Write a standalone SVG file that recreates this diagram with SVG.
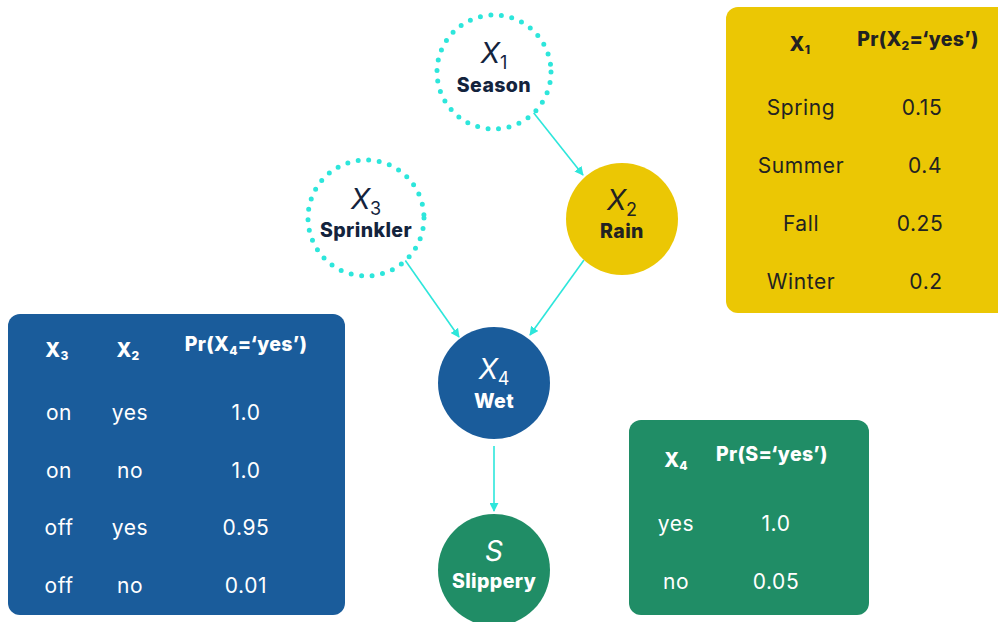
<svg xmlns="http://www.w3.org/2000/svg" width="998" height="622" viewBox="0 0 998 622">
<style>
.lbl{font-family:Inter,"Open Sans","Liberation Sans",sans-serif;font-weight:800;font-size:19.5px;text-anchor:middle;letter-spacing:0.4px}
.var{font-family:Inter,"Open Sans","Liberation Sans",sans-serif;font-style:italic;font-size:28px;text-anchor:middle}
.sub{font-style:normal;font-size:18px}
.th{font-family:Inter,"Open Sans","Liberation Sans",sans-serif;font-weight:800;font-size:19.5px;text-anchor:middle;letter-spacing:0.3px}
.thsub{font-size:12px}
.td{font-family:Inter,"Open Sans","Liberation Sans",sans-serif;font-size:21px;text-anchor:middle;letter-spacing:0.6px}
.dot{fill:#fff;stroke:#2de6db;stroke-width:5;stroke-linecap:round;stroke-dasharray:0 10.6}
.edge{stroke:#2de6db;stroke-width:1.6;fill:none;marker-end:url(#ah)}
.dark{fill:#13233d}
.wht{fill:#fff}
.blk{fill:#222}
</style>
<defs>
<marker id="ah" viewBox="0 0 10 10" refX="9" refY="5" markerWidth="9" markerHeight="9" markerUnits="userSpaceOnUse" orient="auto">
<path d="M0,0 L10,5 L0,10 z" fill="#2de6db"/>
</marker>
</defs>
<rect width="998" height="622" fill="#fff"/>
<g id="connectors">
<line class="edge" x1="533" y1="112" x2="583" y2="175"/>
<line class="edge" x1="405" y1="260" x2="459" y2="337"/>
<line class="edge" x1="584" y1="260" x2="530" y2="335"/>
<line class="edge" x1="494" y1="446" x2="494" y2="511"/>
</g>
<g id="table-x2">
<rect x="726" y="7" width="290" height="306" rx="12" fill="#ebc704"/>
<text class="th blk" x="800" y="51">X<tspan class="thsub" dy="3">1</tspan></text>
<text class="th blk" x="918" y="46">Pr(X<tspan class="thsub" dy="4">2</tspan><tspan dy="-4">=‘yes’)</tspan></text>
<text class="td blk" x="801" y="115">Spring</text><text class="td blk" x="922" y="115">0.15</text>
<text class="td blk" x="801" y="173">Summer</text><text class="td blk" x="925" y="173">0.4</text>
<text class="td blk" x="801" y="231">Fall</text><text class="td blk" x="920" y="231">0.25</text>
<text class="td blk" x="801" y="289">Winter</text><text class="td blk" x="926" y="289">0.2</text>
</g>
<g id="table-x4">
<rect x="8" y="314" width="337" height="301" rx="12" fill="#1a5c9b"/>
<text class="th wht" x="57" y="357">X<tspan class="thsub" dy="3">3</tspan></text>
<text class="th wht" x="128" y="357">X<tspan class="thsub" dy="3">2</tspan></text>
<text class="th wht" x="246" y="351">Pr(X<tspan class="thsub" dy="4">4</tspan><tspan dy="-4">=‘yes’)</tspan></text>
<text class="td wht" x="59" y="420">on</text><text class="td wht" x="130" y="420">yes</text><text class="td wht" x="246" y="420">1.0</text>
<text class="td wht" x="59" y="478">on</text><text class="td wht" x="130" y="478">no</text><text class="td wht" x="246" y="478">1.0</text>
<text class="td wht" x="59" y="535">off</text><text class="td wht" x="130" y="535">yes</text><text class="td wht" x="246" y="535">0.95</text>
<text class="td wht" x="59" y="593">off</text><text class="td wht" x="130" y="593">no</text><text class="td wht" x="246" y="593">0.01</text>
</g>
<g id="table-s">
<rect x="629" y="420" width="240" height="195" rx="12" fill="#208d66"/>
<text class="th wht" x="676" y="467">X<tspan class="thsub" dy="3">4</tspan></text>
<text class="th wht" x="772" y="461">Pr(S=‘yes’)</text>
<text class="td wht" x="676" y="531">yes</text><text class="td wht" x="776" y="531">1.0</text>
<text class="td wht" x="676" y="589">no</text><text class="td wht" x="776" y="589">0.05</text>
</g>
<g id="node-season">
<circle class="dot" cx="494" cy="72" r="57"/>
<text class="var dark" x="494" y="63">X<tspan class="sub" dy="6">1</tspan></text>
<text class="lbl dark" x="494" y="92">Season</text>
</g>
<g id="node-sprinkler">
<circle class="dot" cx="366" cy="218" r="58"/>
<text class="var dark" x="366" y="209">X<tspan class="sub" dy="6">3</tspan></text>
<text class="lbl dark" x="366" y="237">Sprinkler</text>
</g>
<g id="node-rain">
<circle cx="622" cy="219" r="56" fill="#ebc704"/>
<text class="var blk" x="622" y="210">X<tspan class="sub" dy="6">2</tspan></text>
<text class="lbl blk" x="622" y="238">Rain</text>
</g>
<g id="node-wet">
<circle cx="494" cy="383" r="56" fill="#1a5c9b"/>
<text class="var wht" x="494" y="379">X<tspan class="sub" dy="6">4</tspan></text>
<text class="lbl wht" x="494" y="408">Wet</text>
</g>
<g id="node-slippery">
<circle cx="494" cy="570" r="56" fill="#208d66"/>
<text class="var wht" x="494" y="561" font-size="26">S</text>
<text class="lbl wht" x="494" y="588">Slippery</text>
</g>
</svg>
